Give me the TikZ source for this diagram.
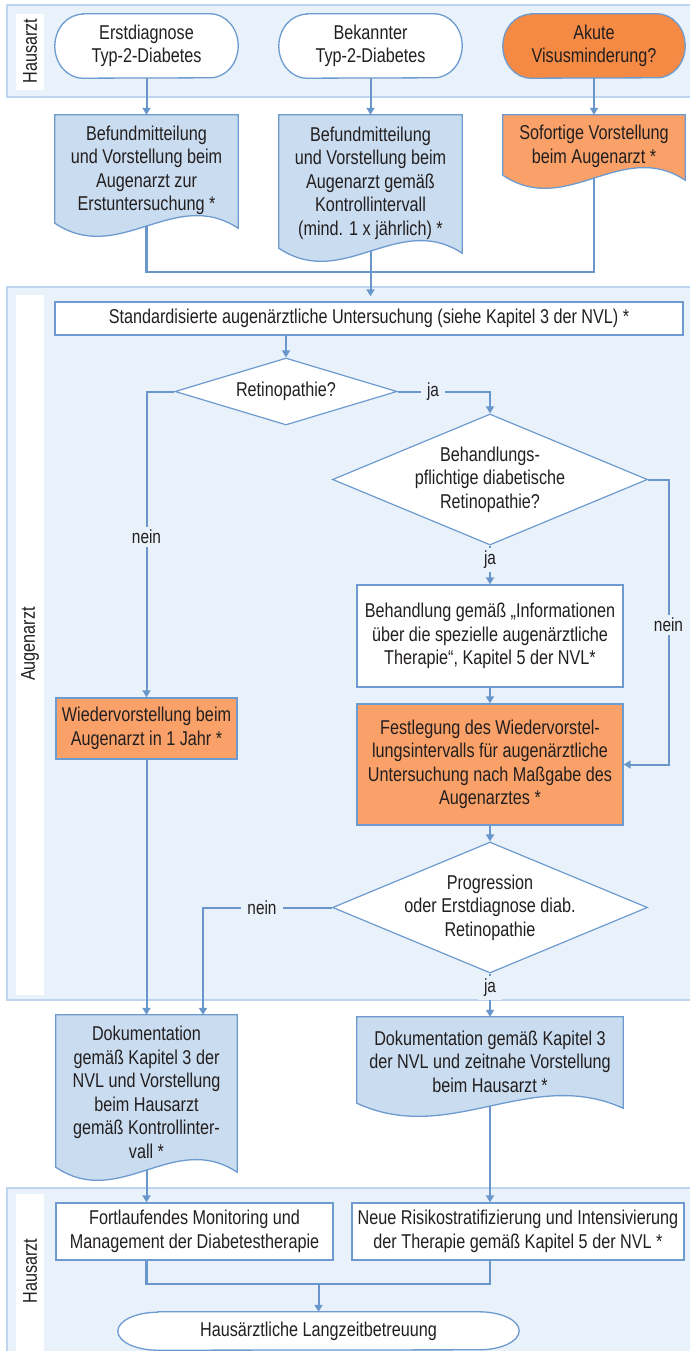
\documentclass[tikz,border=0pt]{standalone}
\usepackage{fontspec}
\setmainfont{Liberation Sans}[FakeStretch=0.81]
\usetikzlibrary{calc,arrows.meta,shapes.geometric}
\pgfdeclarelayer{lanes}
\pgfdeclarelayer{bg}
\pgfsetlayers{lanes,bg,main}
\definecolor{lanefill}{HTML}{E9F1FA}
\definecolor{laneedge}{HTML}{BFD4EE}
\definecolor{edge}{HTML}{6D9BD0}
\definecolor{arrowc}{HTML}{6A97CB}
\definecolor{docblue}{HTML}{CADCEF}
\definecolor{orangeD}{HTML}{F58A44}
\definecolor{orangeL}{HTML}{F9A168}
\definecolor{txt}{HTML}{231F20}
\newcommand\myterm[4]{%
  \path[termline,fill=#4] ($(#1.north west)+(#2,0)$) -- ($(#1.north east)-(#2,0)$)
    arc[start angle=90,end angle=-90,x radius=#2pt,y radius=#3pt]
    -- ($(#1.south west)+(#2,0)$)
    arc[start angle=270,end angle=90,x radius=#2pt,y radius=#3pt] -- cycle;}
\newcommand\mydoc[2]{%
  \path[docline,fill=#2] (#1.north west) -- (#1.north east) -- ($(#1.south east)+(0,2)$)
    .. controls ($(#1.south east)!0.35!(#1.south west)+(0,-40)$) and ($(#1.south east)!0.65!(#1.south west)+(0,40)$) ..
    ($(#1.south west)+(0,-3)$) -- cycle;}
\begin{document}
\begin{tikzpicture}[x=1pt,y=-1pt,
  base/.style={font=\fontsize{20}{23.5}\selectfont, text=txt, align=center, inner sep=0pt},
  boxw/.style={base, rectangle, draw=edge, line width=1.3pt, fill=white},
  boxo/.style={boxw, fill=orangeL},
  holder/.style={base, rectangle, draw=none},
  dia/.style={diamond, draw=edge, line width=1.2pt, fill=white, inner sep=0pt},
  termline/.style={draw=edge, line width=1.3pt},
  docline/.style={draw=edge, line width=1.3pt},
  arr/.style={draw=arrowc, line width=2pt, -{Triangle[width=8pt,length=7pt]}},
  merge/.style={draw=arrowc, line width=2.8pt},
  lab/.style={font=\fontsize{19}{22}\selectfont, text=txt, fill=lanefill, inner xsep=6pt, inner ysep=3pt},
  lane/.style={fill=lanefill, draw=laneedge, line width=1.3pt},
  strip/.style={fill=white, draw=none},
  lanelabel/.style={base, rotate=90}
]
\useasboundingbox (0,0) rectangle (690,1351);
\begin{pgfonlayer}{lanes}
  \fill[white] (0,0) rectangle (690,1351);
  \path[lane] (7,5) rectangle (700,97);
  \path[strip] (16,14) rectangle (44,90);
  \path[lane] (7,287) rectangle (700,1000);
  \path[strip] (16,295) rectangle (44,995);
  \path[lane] (7,1188) rectangle (700,1370);
  \path[strip] (16,1194) rectangle (44,1370);
\end{pgfonlayer}
\node[lanelabel] (L1) at (30,51) {Hausarzt};
\node[lanelabel] (L2) at (30,644) {Augenarzt};
\node[lanelabel] (L3) at (30,1271) {Hausarzt};

% terminals
\node[holder, minimum width=183pt, minimum height=64pt] (t1) at (146.5,46) {Erstdiagnose\\Typ-2-Diabetes};
\node[holder, minimum width=183pt, minimum height=64pt] (t2) at (370.5,46) {Bekannter\\Typ-2-Diabetes};
\node[holder, minimum width=182pt, minimum height=64pt] (t3) at (594,46) {Akute\\Visusminderung?};
\node[holder, minimum width=401pt, minimum height=38pt] (fin) at (318.5,1331) {Hausärztliche Langzeitbetreuung};

% documents
\node[holder, minimum width=183pt, minimum height=111pt] (d1) at (146.5,170.5) {Befundmitteilung\\und Vorstellung beim\\Augenarzt zur\\Erstuntersuchung *};
\node[holder, minimum width=183pt, minimum height=136pt] (d2) at (370.5,183) {Befundmitteilung\\und Vorstellung beim\\Augenarzt gemäß\\Kontrollintervall\\(mind. 1 x jährlich) *};
\node[holder, minimum width=182pt, minimum height=63pt] (d3) at (594,146.5) {Sofortige Vorstellung\\beim Augenarzt *};
\node[holder, minimum width=181pt, minimum height=155pt] (dok1) at (146.5,1092.5) {Dokumentation\\gemäß Kapitel 3 der\\NVL und Vorstellung\\beim Hausarzt\\gemäß Kontrollinter-\\vall *};
\node[holder, minimum width=266pt, minimum height=89pt] (dok2) at (490,1061.5) {Dokumentation gemäß Kapitel 3\\der NVL und zeitnahe Vorstellung\\beim Hausarzt *};

\begin{pgfonlayer}{bg}
  \myterm{t1}{28}{32}{white}
  \myterm{t2}{28}{32}{white}
  \myterm{t3}{28}{32}{orangeD}
  \myterm{fin}{40}{19}{white}
  \mydoc{d1}{docblue}
  \mydoc{d2}{docblue}
  \mydoc{d3}{orangeL}
  \mydoc{dok1}{docblue}
  \mydoc{dok2}{docblue}
\end{pgfonlayer}

% boxes
\node[boxw, minimum width=628pt, minimum height=33pt] (std) at (369,318.5) {Standardisierte augenärztliche Untersuchung (siehe Kapitel 3 der NVL) *};
\node[boxo, minimum width=181pt, minimum height=61pt] (wieder) at (146.5,728.5) {Wiedervorstellung beim\\Augenarzt in 1 Jahr *};
\node[boxw, minimum width=266pt, minimum height=102pt] (behand) at (490,636) {Behandlung gemäß „Informationen\\über die spezielle augenärztliche\\Therapie“, Kapitel 5 der NVL*};
\node[boxo, minimum width=266pt, minimum height=121pt] (festl) at (490,764.5) {Festlegung des Wiedervorstel-\\lungsintervalls für augenärztliche\\Untersuchung nach Maßgabe des\\Augenarztes *};
\node[boxw, minimum width=277pt, minimum height=57pt] (fortl) at (194.5,1231.5) {Fortlaufendes Monitoring und\\Management der Diabetestherapie};
\node[boxw, minimum width=332pt, minimum height=57pt] (neue) at (518,1231.5) {Neue Risikostratifizierung und Intensivierung\\der Therapie gemäß Kapitel 5 der NVL *};

% decisions
\node[dia, minimum width=222pt, minimum height=67pt] (retq) at (286,391.5) {};
\node[base] (retqt) at (retq) {Retinopathie?};
\node[dia, minimum width=315pt, minimum height=131pt] (behq) at (490,479.5) {};
\node[base] (behqt) at (behq) {Behandlungs-\\pflichtige diabetische\\Retinopathie?};
\node[dia, minimum width=315pt, minimum height=131pt] (progq) at (490,907.5) {};
\node[base] (progqt) at (progq) {Progression\\oder Erstdiagnose diab.\\Retinopathie};

% connectors
\coordinate (j1) at (370.5,272);
\coordinate (j2) at (318.5,1284);
\draw[arr] (t1.south) -- (d1.north);
\draw[arr] (t2.south) -- (d2.north);
\draw[arr] (t3.south) -- (d3.north);
\draw[merge] (d1.south) |- (j1);
\draw[merge] (d3.south) |- (j1);
\draw[arr, shorten >=5pt] (d2.south) -- (d2.south |- std.north);
\draw[arr] (std.south -| retq.north) -- (retq.north);
\draw[arr] (retq.west) -| (wieder.north);
\draw[arr] (retq.east) -| (behq.north);
\draw[arr] (behq.south) -- (behand.north);
\draw[arr] (behq.east) -- ++(21,0) |- (festl.east);
\draw[arr] (behand.south) -- (festl.north);
\draw[arr] (festl.south) -- (progq.north);
\draw[arr] (progq.west) -| ([xshift=56.5pt]dok1.north);
\draw[arr] (progq.south) -- (dok2.north);
\draw[arr] (wieder.south) -- (dok1.north);
\draw[arr] (dok1.south) -- (dok1.south |- fortl.north);
\draw[arr] (dok2.south) -- (dok2.south |- neue.north);
\draw[merge] (fortl.south -| dok1.south) |- (j2);
\draw[merge] (neue.south -| dok2.south) |- (j2);
\draw[arr] (j2) -- (fin.north);

% labels
\node[lab] (n1) at (146.5,537) {nein};
\node[lab] (y1) at (433,391.5) {ja};
\node[lab] (y2) at (490,560) {ja};
\node[lab] (n2) at (668.5,625) {nein};
\node[lab] (n3) at (262,907.5) {nein};
\node[lab] (y3) at (490,988) {ja};
\end{tikzpicture}
\end{document}
